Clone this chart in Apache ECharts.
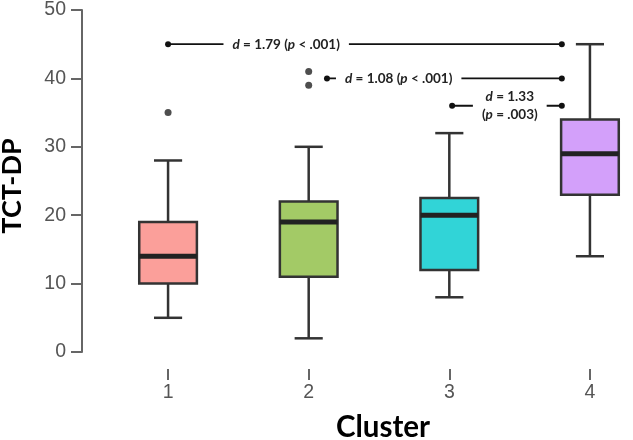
<!DOCTYPE html>
<html><head><meta charset="utf-8">
<script src="https://cdn.jsdelivr.net/npm/echarts@6/dist/echarts.min.js"></script>
<style>html,body{margin:0;padding:0;background:#fff}#c{width:633px;height:440px}</style>
</head><body><div id="c"></div>
<script>
// ---- data ----
const categories = ['1', '2', '3', '4'];
const boxMin    = [5, 2, 8, 14];
const boxQ1     = [10, 11, 12, 23];
const boxMedian = [14, 19, 20, 29];
const boxQ3     = [19, 22, 22.5, 34];
const boxMax    = [28, 30, 32, 45];
const boxColors = ['#FB9F9A', '#A3CA66', '#31D4D7', '#D3A0FA'];
const outlierCluster = [0, 1, 1];
const outlierValue   = [35, 41, 39];
const yTicks = [0, 10, 20, 30, 40, 50];
// effect-size annotations (x in cluster-index units, y in TCT-DP units)
const annLabels = [
  '{i|d} = 1.79 ({i|p} < .001)',
  '{i|d} = 1.08 ({i|p} < .001)',
  '{i|d} = 1.33\n({i|p} = .003)'
];
const annY       = [45, 40, 36];
const annStart   = [0, 1.13, 2.02];
const annEnd     = [2.8, 2.8, 2.8];
const annTextPos = [0.84, 1.64, 2.43];

const titleFont = 'Lato, "Open Sans", sans-serif';
const tickFont = '"Liberation Sans", Arial, sans-serif';

const chart = echarts.init(document.getElementById('c'), null, {renderer: 'canvas'});

const boxData = categories.map((c, i) => [i, boxMin[i], boxQ1[i], boxMedian[i], boxQ3[i], boxMax[i]]);
const outlierData = outlierCluster.map((c, i) => [c, outlierValue[i]]);
const annData = annY.map((y, i) => [annStart[i], annEnd[i], y, annTextPos[i]]);

const option = {
  animation: false,
  backgroundColor: '#fff',
  grid: {left: 97.75, right: -27.25, top: 10, bottom: 88, containLabel: false, outerBoundsMode: 'none'},
  xAxis: [{
    type: 'category',
    data: categories,
    position: 'bottom',
    offset: 17,
    boundaryGap: true,
    axisLine: {show: false, onZero: false},
    axisTick: {show: true, alignWithLabel: true, length: 11, lineStyle: {color: '#666', width: 2}},
    axisLabel: {fontSize: 19.5, color: '#555', fontFamily: tickFont, margin: 14},
    splitLine: {show: false},
    name: 'Cluster',
    nameLocation: 'middle',
    nameGap: 43,
    nameTextStyle: {fontFamily: titleFont, fontWeight: 'bold', fontSize: 29.5, color: '#000', padding: [0, 0, 0, 8]}
  }, {
    type: 'value',
    min: -0.5, max: 3.5,
    show: false,
    axisLine: {onZero: false}
  }],
  yAxis: [{
    type: 'value',
    min: 0, max: 50, interval: 10,
    position: 'left',
    offset: 15.75,
    axisLine: {show: true, onZero: false, lineStyle: {color: '#666', width: 2}},
    axisTick: {show: true, length: 11, lineStyle: {color: '#666', width: 2}},
    axisLabel: {fontSize: 19.5, color: '#555', fontFamily: tickFont, margin: 16},
    splitLine: {show: false},
    name: 'TCT-DP',
    nameLocation: 'middle',
    nameGap: 56,
    nameRotate: 90,
    nameTextStyle: {fontFamily: titleFont, fontWeight: 'bold', fontSize: 27, color: '#000', padding: [0, 10, 0, 0]}
  }],
  series: [{
    type: 'custom',
    xAxisIndex: 0, yAxisIndex: 0,
    data: boxData,
    encode: {x: 0, y: [1, 2, 3, 4, 5]},
    clip: false,
    renderItem: function (params, api) {
      const i = api.value(0);
      const band = api.size([1, 0])[0];
      const xc = api.coord([i, 0])[0];
      const bw = band * 0.41, cw = band * 0.2;
      const yMin = api.coord([i, api.value(1)])[1];
      const yQ1 = api.coord([i, api.value(2)])[1];
      const yMed = api.coord([i, api.value(3)])[1];
      const yQ3 = api.coord([i, api.value(4)])[1];
      const yMax = api.coord([i, api.value(5)])[1];
      const ls = {stroke: '#333', lineWidth: 2.5};
      return {type: 'group', children: [
        {type: 'line', shape: {x1: xc, y1: yQ3, x2: xc, y2: yMax}, style: ls},
        {type: 'line', shape: {x1: xc, y1: yQ1, x2: xc, y2: yMin}, style: ls},
        {type: 'line', shape: {x1: xc - cw / 2, y1: yMax, x2: xc + cw / 2, y2: yMax}, style: ls},
        {type: 'line', shape: {x1: xc - cw / 2, y1: yMin, x2: xc + cw / 2, y2: yMin}, style: ls},
        {type: 'rect', shape: {x: xc - bw / 2, y: yQ3, width: bw, height: yQ1 - yQ3},
          style: {fill: boxColors[params.dataIndex], stroke: '#333', lineWidth: 2.5}},
        {type: 'line', shape: {x1: xc - bw / 2, y1: yMed, x2: xc + bw / 2, y2: yMed},
          style: {stroke: '#222', lineWidth: 5}}
      ]};
    }
  }, {
    type: 'scatter',
    xAxisIndex: 0, yAxisIndex: 0,
    data: outlierData,
    symbol: 'circle',
    symbolSize: 7,
    itemStyle: {color: '#222'},
    z: 3
  }, {
    type: 'custom',
    xAxisIndex: 1, yAxisIndex: 0,
    data: annData,
    encode: {x: [0, 1, 3], y: 2},
    clip: false,
    z: 4,
    renderItem: function (params, api) {
      const y = api.value(2);
      const p1 = api.coord([api.value(0), y]);
      const p2 = api.coord([api.value(1), y]);
      const pt = api.coord([api.value(3), y]);
      return {type: 'group', children: [
        {type: 'line', shape: {x1: p1[0], y1: p1[1], x2: p2[0], y2: p2[1]},
          style: {stroke: '#111', lineWidth: 1.8}},
        {type: 'circle', shape: {cx: p1[0], cy: p1[1], r: 3}, style: {fill: '#111'}},
        {type: 'circle', shape: {cx: p2[0], cy: p2[1], r: 3}, style: {fill: '#111'}},
        {type: 'text', x: pt[0], y: pt[1], style: {
          text: annLabels[params.dataIndex],
          align: 'center', verticalAlign: 'middle',
          fontFamily: titleFont, fontWeight: 'bold', fontSize: 13.5, lineHeight: 17.5,
          fill: '#222', backgroundColor: '#fff', padding: [0, 9],
          rich: {i: {fontFamily: titleFont, fontWeight: 'bold', fontStyle: 'italic', fontSize: 13.5, lineHeight: 17.5, fill: '#222'}}
        }}
      ]};
    }
  }]
};
chart.setOption(option);
</script>
</body></html>
